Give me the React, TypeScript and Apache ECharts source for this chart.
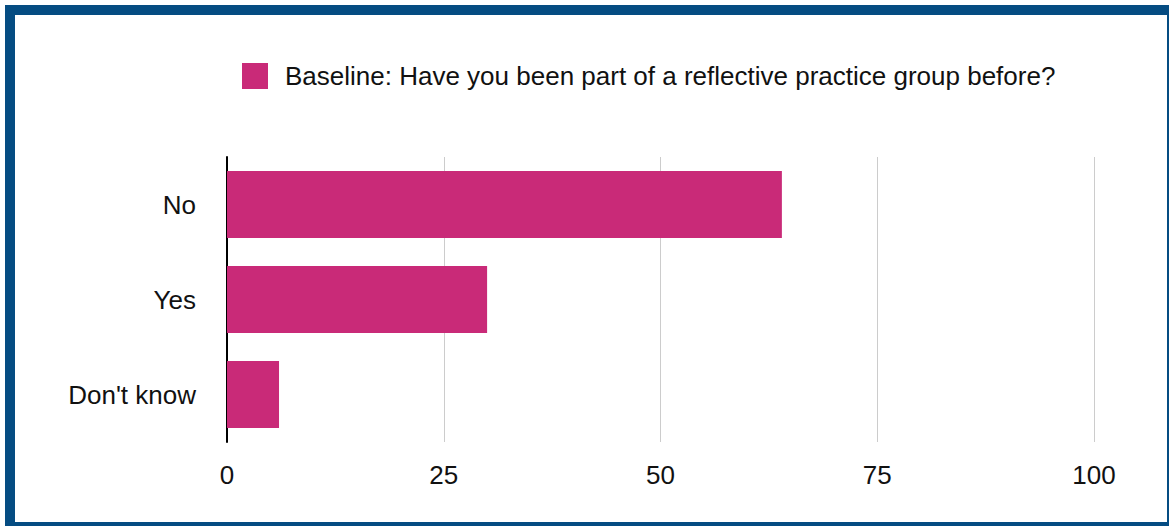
import React, { useEffect, useRef } from "react";
import * as echarts from "echarts";

const categories = ["No", "Yes", "Don't know"];
const values = [64, 30, 6];
const seriesName = "Baseline: Have you been part of a reflective practice group before?";
const xTicks = [0, 25, 50, 75, 100];

export default function App() {
  const ref = useRef<HTMLDivElement>(null);
  useEffect(() => {
    const chart = echarts.init(ref.current!, null, { renderer: "svg" });
    chart.setOption({
      animation: false,
      backgroundColor: "#ffffff",
      textStyle: { fontFamily: "Liberation Sans, Arial, sans-serif" },
      legend: {
        left: 237,
        top: 58,
        itemWidth: 26,
        itemHeight: 26,
        itemGap: 20,
        icon: "rect",
        textStyle: { fontSize: 26, color: "#111", padding: [0, 0, 0, 12] },
        data: [seriesName],
      },
      grid: { left: 227, right: 75, top: 157, height: 285 },
      xAxis: {
        type: "value",
        min: xTicks[0],
        max: xTicks[xTicks.length - 1],
        interval: 25,
        axisLine: { show: false },
        axisTick: { show: false },
        axisLabel: { fontSize: 26, color: "#111", margin: 20 },
        splitLine: { show: true, lineStyle: { color: "#cccccc", width: 1 } },
      },
      yAxis: {
        type: "category",
        data: categories,
        inverse: true,
        axisLine: { show: true, lineStyle: { color: "#000", width: 2 } },
        axisTick: { show: false },
        axisLabel: { fontSize: 26, color: "#111", margin: 31 },
      },
      series: [
        {
          name: seriesName,
          type: "bar",
          data: values,
          barWidth: 67,
          itemStyle: { color: "#c92a78" },
        },
      ],
    });
    return () => chart.dispose();
  }, []);
  return (
    <div style={{ position: "fixed", left: 0, top: 0, width: 1169, height: 526, overflow: "hidden", background: "#fff" }}>
      <div ref={ref} style={{ position: "absolute", left: 0, top: 0, width: 1169, height: 526 }} />
      <div
        style={{
          position: "absolute",
          left: 5,
          top: 5,
          width: 1172,
          height: 527,
          boxSizing: "border-box",
          border: "10px solid #054c82",
          pointerEvents: "none",
        }}
      />
    </div>
  );
}
